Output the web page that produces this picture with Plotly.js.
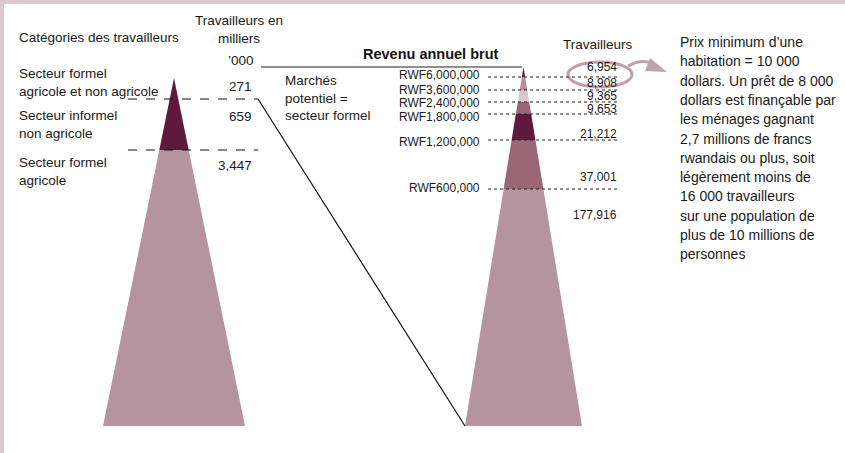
<!DOCTYPE html>
<html>
<head>
<meta charset="utf-8">
<script src="https://cdn.plot.ly/plotly-3.0.1.min.js"></script>
<style>html,body{margin:0;padding:0;background:#fff;}#chart{width:845px;height:453px;}</style>
</head>
<body>
<div id="chart"></div>
<script>
// ---------- data ----------
const workerCategories = ["Secteur formel<br>agricole et non agricole", "Secteur informel<br>non agricole", "Secteur formel<br>agricole"];
const workersThousands = ["271", "659", "3,447"];
const incomeLabels = ["RWF6,000,000", "RWF3,600,000", "RWF2,400,000", "RWF1,800,000", "RWF1,200,000", "RWF600,000"];
const incomeWorkers = ["6,954", "8,908", "9,365", "9,653", "21,212", "37,001", "177,916"];
const noteLines = ["Prix minimum d\u2019une", "habitation = 10 000", "dollars. Un prêt de 8 000", "dollars est finançable par", "les ménages gagnant", "2,7 millions de francs", "rwandais ou plus, soit", "légèrement moins de", "16 000 travailleurs", "sur une population de", "plus de 10 millions de", "personnes"];

// ---------- geometry & style ----------
const FONT = '"Liberation Sans", Arial, sans-serif';
const DARK = '#5f1a3b', MED = '#9b6676', ROSE = '#b88a9b', PALE = '#dcc6ce', MAUVE = '#b6949f';

const leftPyr = {cx: 174, apex: 78, base: 426, half: 71, bounds: [78, 150, 426], colors: [DARK, MAUVE]};
const rightPyr = {cx: 523.5, apex: 67, base: 426, half: 58.5, bounds: [67, 77, 90, 102, 114, 140, 189, 426],
  colors: [DARK, ROSE, PALE, MED, DARK, MED, MAUVE]};
const leftRowY = [99, 150];           // dashed separators
const leftCatY = [82, 124, 171];      // category label centres
const leftValY = [86, 116, 165];
const incomeLineY = [77, 90, 102, 114, 140, 189];
const incomeLabelY = [75, 90, 103, 117, 142, 188];
const incomeValY = [67, 82.5, 96, 109, 134, 177, 215];

function halfAt(p, y) { return p.half * (y - p.apex) / (p.base - p.apex); }

const traces = [];
function addPyr(p) {
  for (let i = 0; i < p.colors.length; i++) {
    const y0 = p.bounds[i], y1 = p.bounds[i + 1];
    const h0 = halfAt(p, y0), h1 = halfAt(p, y1);
    traces.push({
      type: 'scatter', mode: 'lines', fill: 'toself', fillcolor: p.colors[i],
      line: {width: 0, color: p.colors[i]}, hoverinfo: 'skip', showlegend: false,
      x: [p.cx - h0, p.cx + h0, p.cx + h1, p.cx - h1, p.cx - h0],
      y: [y0, y0, y1, y1, y0]
    });
  }
}
addPyr(leftPyr);
addPyr(rightPyr);

const shapes = [
  {type: 'rect', xref: 'paper', yref: 'paper', x0: 0, x1: 1, y0: 1 - 4 / 453, y1: 1, fillcolor: '#dbc8cf', line: {width: 0}, layer: 'below'},
  {type: 'rect', xref: 'paper', yref: 'paper', x0: 0, x1: 4 / 845, y0: 0, y1: 1, fillcolor: '#dbc8cf', line: {width: 0}, layer: 'below'},
  {type: 'line', x0: 261, x1: 522, y0: 67, y1: 67, line: {color: '#222', width: 1.2}},
  {type: 'line', x0: 258, x1: 465, y0: 99, y1: 426, line: {color: '#111', width: 1.2}},
  {type: 'circle', x0: 568, x1: 632, y0: 62, y1: 87, line: {color: '#c29fac', width: 3}},
  {type: 'path', path: 'M 628 66 Q 642 58 654 64', line: {color: '#c29fac', width: 3}},
  {type: 'path', path: 'M 650 58 L 667 72 L 645 71 Z', fillcolor: '#c29fac', line: {color: '#c29fac', width: 0}}
];
leftRowY.forEach(y => shapes.push({type: 'line', x0: 128, x1: 258, y0: y, y1: y, line: {color: '#111', width: 1, dash: 'dash'}}));
incomeLineY.forEach(y => shapes.push({type: 'line', x0: 488, x1: 620, y0: y, y1: y, line: {color: '#222', width: 1, dash: 'dot'}}));

const ann = [];
function txt(x, y, text, opts) {
  const o = Object.assign({x: x, y: y, text: text, showarrow: false, xanchor: 'left', yanchor: 'middle',
    font: {family: FONT, size: 13.5, color: '#1a1a1a'}}, opts || {});
  o.align = o.xanchor;
  ann.push(o);
}
txt(17, 37, 'Catégories des travailleurs');
workerCategories.forEach((c, i) => txt(17, leftCatY[i], c));
txt(239, 29, 'Travailleurs en<br>milliers', {xanchor: 'center'});
txt(241, 60, '\u2019000', {xanchor: 'center'});
workersThousands.forEach((v, i) => txt(254, leftValY[i], v, {xanchor: 'right'}));
txt(283, 98, 'Marchés<br>potentiel =<br>secteur formel');
txt(431, 54, '<b>Revenu annuel brut</b>', {xanchor: 'center', font: {family: FONT, size: 14.5, color: '#111'}});
txt(598, 44, 'Travailleurs', {xanchor: 'center'});
incomeLabels.forEach((l, i) => txt(482, incomeLabelY[i], l, {xanchor: 'right', font: {family: FONT, size: 12, color: '#1a1a1a'}}));
incomeWorkers.forEach((v, i) => txt(619, incomeValY[i], v, {xanchor: 'right', font: {family: FONT, size: 12, color: '#1a1a1a'}}));
noteLines.forEach((l, i) => txt(678, 42 + i * 19.3, l, {font: {family: FONT, size: 14, color: '#1a1a1a'}}));

const layout = {
  width: 845, height: 453,
  margin: {l: 0, r: 0, t: 0, b: 0},
  paper_bgcolor: '#fff', plot_bgcolor: '#fff',
  xaxis: {range: [0, 845], visible: false, fixedrange: true},
  yaxis: {range: [453, 0], visible: false, fixedrange: true},
  shapes: shapes, annotations: ann, showlegend: false
};
Plotly.newPlot('chart', traces, layout, {staticPlot: true});
</script>
</body>
</html>
